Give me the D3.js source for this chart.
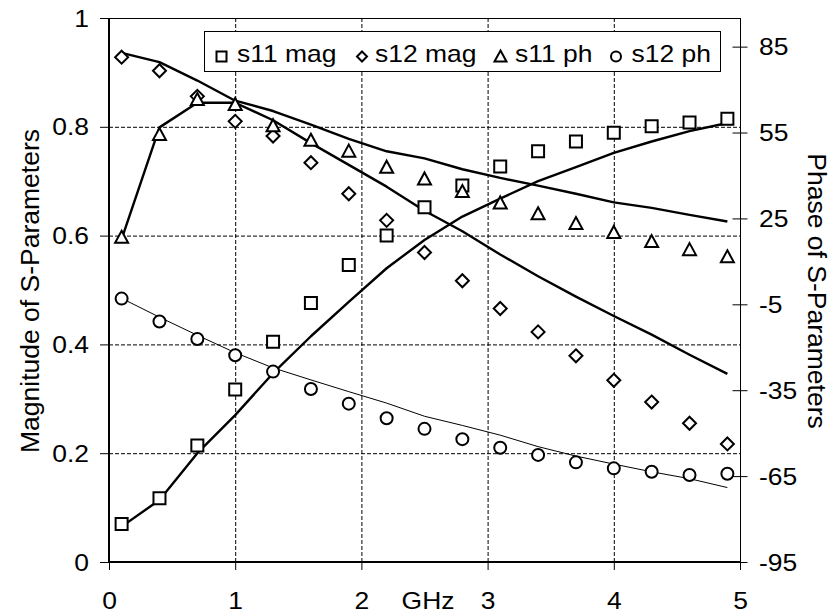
<!DOCTYPE html>
<html>
<head>
<meta charset="utf-8">
<script src="https://cdn.jsdelivr.net/npm/d3@7"></script>
<style>
  html, body { margin: 0; padding: 0; background: #fff; }
  svg { display: block; font-family: "Liberation Sans", Arial, sans-serif; }
</style>
</head>
<body>
<svg id="chart" width="838" height="615"></svg>
<script>
// Frequency sweep (GHz)
const freqGHz = [0.1, 0.4, 0.7, 1.0, 1.3, 1.6, 1.9, 2.2, 2.5, 2.8, 3.1, 3.4, 3.7, 4.0, 4.3, 4.6, 4.9];

// Measured S-parameters: magnitudes (left axis) and phases in degrees (right axis)
const s11Mag = [0.070, 0.117, 0.214, 0.317, 0.405, 0.476, 0.546, 0.600, 0.652, 0.692, 0.727, 0.755, 0.773, 0.789, 0.801, 0.808, 0.815];
const s12Mag = [0.928, 0.903, 0.856, 0.810, 0.783, 0.734, 0.677, 0.628, 0.569, 0.517, 0.466, 0.423, 0.379, 0.334, 0.294, 0.255, 0.217];
const s11Ph  = [18.4, 54.3, 66.5, 64.8, 57.4, 52.3, 48.5, 42.9, 38.8, 34.4, 30.4, 26.6, 23.2, 20.1, 16.9, 14.1, 11.6];
const s12Ph  = [-3.0, -11.0, -17.1, -22.8, -28.5, -34.6, -39.7, -44.8, -48.5, -52.1, -55.1, -57.6, -60.2, -62.3, -63.5, -64.6, -64.2];

// Model curves
const s11MagFit = [0.065, 0.114, 0.200, 0.270, 0.347, 0.415, 0.478, 0.540, 0.592, 0.635, 0.668, 0.700, 0.726, 0.752, 0.773, 0.792, 0.807];
const s12MagFit = [0.936, 0.919, 0.885, 0.848, 0.829, 0.804, 0.778, 0.755, 0.742, 0.722, 0.706, 0.692, 0.677, 0.661, 0.651, 0.638, 0.626];
const s11PhFit  = [17.8, 56.8, 65.4, 65.4, 59.3, 51.3, 43.7, 36.1, 27.7, 20.5, 12.4, 4.8, -2.3, -9.1, -15.6, -22.6, -29.3];
const s12PhFit  = [-2.9, -9.5, -15.8, -21.9, -27.2, -31.4, -35.5, -39.5, -44.1, -47.3, -50.7, -54.7, -58.0, -60.8, -63.5, -65.9, -69.0];

// Axis ticks
const xTicks = [0, 1, 2, 3, 4, 5];
const magTicks = [0, 0.2, 0.4, 0.6, 0.8, 1];
const phTicks = [-95, -65, -35, -5, 25, 55, 85];
const legendLabels = ["s11 mag", "s12 mag", "s11 ph", "s12 ph"];

const svg = d3.select("#chart");
const FONT = 23;
const TITLE_FONT = 26.5;
const SX = 1.15; // horizontal glyph stretch

const plot = { left: 109, right: 740, top: 18, bottom: 562 };
const x = d3.scaleLinear().domain([0, 5]).range([plot.left, plot.right]);
const yMag = d3.scaleLinear().domain([0, 1]).range([plot.bottom, plot.top]);
const yPh = d3.scaleLinear().domain([-95, 95]).range([plot.bottom, plot.top]);

// Gridlines
const grid = svg.append("g").attr("stroke", "#000").attr("stroke-width", 1).attr("stroke-dasharray", "4,2");
grid.selectAll("line.h").data(magTicks.filter(d => d > 0 && d < 1)).join("line")
  .attr("x1", plot.left).attr("x2", plot.right)
  .attr("y1", d => yMag(d) + 0.5).attr("y2", d => yMag(d) + 0.5);
grid.selectAll("line.v").data(xTicks.filter(d => d > 0 && d < 5)).join("line")
  .attr("y1", plot.top).attr("y2", plot.bottom)
  .attr("x1", d => x(d) + 0.5).attr("x2", d => x(d) + 0.5);

// Plot frame
svg.append("line").attr("x1", plot.left).attr("x2", plot.right).attr("y1", plot.top + 0.5).attr("y2", plot.top + 0.5).attr("stroke", "#000").attr("stroke-width", 1);
svg.append("line").attr("x1", plot.right + 0.5).attr("x2", plot.right + 0.5).attr("y1", plot.top).attr("y2", plot.bottom).attr("stroke", "#000").attr("stroke-width", 1);

function stretchText(sel) {
  sel.each(function () {
    const t = d3.select(this);
    const tx = +t.attr("x") || 0;
    t.attr("transform", `translate(${tx},0) scale(${SX},1) translate(${-tx},0)`);
  });
}

// Left axis
const gL = svg.append("g").attr("transform", `translate(${plot.left},0)`)
  .call(d3.axisLeft(yMag).tickValues(magTicks).tickSize(9).tickPadding(11)
    .tickFormat(d => (d === 0 || d === 1) ? String(d) : d3.format(".1f")(d)));
gL.select(".domain").remove();
gL.selectAll(".tick line").attr("stroke", "#000").attr("stroke-width", 1);
gL.selectAll(".tick text").attr("font-size", FONT).attr("fill", "#000")
  .attr("font-family", "Liberation Sans, Arial, sans-serif").attr("dy", "0.35em").call(stretchText);

// Right axis
const gR = svg.append("g").attr("transform", `translate(${plot.right},0)`)
  .call(d3.axisRight(yPh).tickValues(phTicks).tickSize(7).tickPadding(12).tickFormat(d => String(d)));
gR.select(".domain").remove();
gR.selectAll(".tick line").attr("x1", -7.5).attr("x2", 7.5).attr("stroke", "#000").attr("stroke-width", 1);
gR.selectAll(".tick text").attr("font-size", FONT).attr("fill", "#000")
  .attr("font-family", "Liberation Sans, Arial, sans-serif").attr("dy", "0.35em").call(stretchText);

// Bottom axis
const gB = svg.append("g").attr("transform", `translate(0,${plot.bottom})`)
  .call(d3.axisBottom(x).tickValues(xTicks).tickSize(8).tickFormat(d => String(d)));
gB.select(".domain").remove();
gB.selectAll(".tick line").attr("stroke", "#000").attr("stroke-width", 1);
gB.selectAll(".tick text").attr("font-size", FONT).attr("fill", "#000")
  .attr("font-family", "Liberation Sans, Arial, sans-serif").attr("y", 47).attr("dy", 0).call(stretchText);

// Heavier left and bottom axis lines
svg.append("line").attr("x1", plot.left).attr("x2", plot.left).attr("y1", plot.top).attr("y2", plot.bottom + 1).attr("stroke", "#000").attr("stroke-width", 2);
svg.append("line").attr("x1", plot.left - 1).attr("x2", plot.right + 1).attr("y1", plot.bottom).attr("y2", plot.bottom).attr("stroke", "#000").attr("stroke-width", 2);

// Axis titles
svg.append("text").attr("transform", `translate(428,609) scale(${SX},1)`)
  .attr("text-anchor", "middle").attr("font-size", FONT).attr("fill", "#000").text("GHz");
svg.append("text").attr("transform", "translate(39,291) rotate(-90)")
  .attr("text-anchor", "middle").attr("font-size", TITLE_FONT).attr("fill", "#000").text("Magnitude of S-Parameters");
svg.append("text").attr("transform", "translate(808,291) rotate(90)")
  .attr("text-anchor", "middle").attr("font-size", TITLE_FONT).attr("fill", "#000").text("Phase of S-Parameters");

// Model curves
const lineOn = (ys) => d3.line().x((d, i) => x(freqGHz[i])).y(d => ys(d));
const curves = [
  { data: s12MagFit, scale: yMag, w: 2.4 },
  { data: s11PhFit, scale: yPh, w: 2.4 },
  { data: s11MagFit, scale: yMag, w: 2.4 },
  { data: s12PhFit, scale: yPh, w: 1 }
];
curves.forEach(c => {
  svg.append("path").datum(c.data).attr("d", lineOn(c.scale))
    .attr("fill", "none").attr("stroke", "#000").attr("stroke-width", c.w).attr("stroke-linejoin", "round");
});

// Marker shapes
const shapes = {
  square: s => `M${-s/2},${-s/2}h${s}v${s}h${-s}Z`,
  diamond: s => `M0,${-s/2}L${s/2},0L0,${s/2}L${-s/2},0Z`,
  triangle: s => `M0,${-s/2}L${s/2},${s/2 - 1}L${-s/2},${s/2 - 1}Z`,
  circle: s => `M${s/2},0A${s/2},${s/2} 0 1 1 ${-s/2},0A${s/2},${s/2} 0 1 1 ${s/2},0Z`
};

const series = [
  { values: s11Mag, scale: yMag, shape: "square", size: 12 },
  { values: s12Mag, scale: yMag, shape: "diamond", size: 13 },
  { values: s11Ph, scale: yPh, shape: "triangle", size: 13 },
  { values: s12Ph, scale: yPh, shape: "circle", size: 12 }
];
series.forEach(s => {
  svg.append("g").selectAll("path").data(s.values).join("path")
    .attr("transform", (d, i) => `translate(${x(freqGHz[i])},${s.scale(d)})`)
    .attr("d", shapes[s.shape](s.size))
    .attr("fill", "#fff").attr("stroke", "#000").attr("stroke-width", 2);
});

// Legend
const lg = svg.append("g");
lg.append("rect").attr("x", 204.5).attr("y", 31.5).attr("width", 516).attr("height", 40)
  .attr("fill", "#fff").attr("stroke", "#000").attr("stroke-width", 1);
const legendMarkerX = [221.5, 362, 500.5, 616];
const legendTextX = [237, 375, 515, 631.5];
legendLabels.forEach((lab, i) => {
  lg.append("path").attr("transform", `translate(${legendMarkerX[i]},56.5)`)
    .attr("d", shapes[series[i].shape](series[i].shape === "triangle" ? 12 : 10))
    .attr("fill", "#fff").attr("stroke", "#000").attr("stroke-width", 2);
  lg.append("text").attr("transform", `translate(${legendTextX[i]},62) scale(${SX},1)`)
    .attr("font-size", FONT).attr("fill", "#000").text(lab);
});
</script>
</body>
</html>
